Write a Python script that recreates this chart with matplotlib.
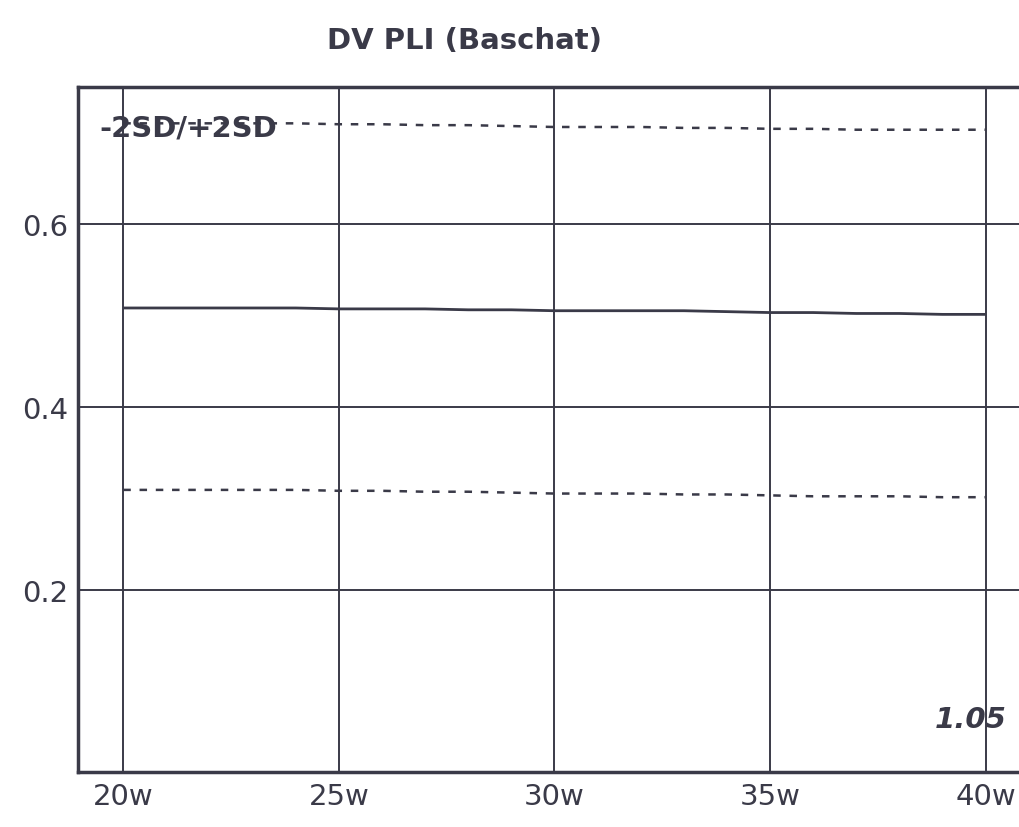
import matplotlib
matplotlib.use("Agg")
import matplotlib.pyplot as plt

# Values
weeks = [20, 21, 22, 23, 24, 25, 26, 27, 28, 29, 30, 31, 32, 33, 34, 35, 36, 37, 38, 39, 40]
mean_pli = [0.508, 0.508, 0.508, 0.508, 0.508, 0.507, 0.507, 0.507, 0.506, 0.506, 0.505,
            0.505, 0.505, 0.505, 0.504, 0.503, 0.503, 0.502, 0.502, 0.501, 0.501]
minus_2sd = [0.309, 0.309, 0.309, 0.309, 0.309, 0.308, 0.308, 0.307, 0.307, 0.306, 0.305,
             0.305, 0.305, 0.304, 0.304, 0.303, 0.302, 0.302, 0.302, 0.301, 0.301]
plus_2sd = [0.710, 0.710, 0.710, 0.710, 0.710, 0.709, 0.709, 0.708, 0.708, 0.707, 0.706,
            0.706, 0.706, 0.705, 0.705, 0.704, 0.704, 0.703, 0.703, 0.703, 0.703]
x_ticks = [20, 25, 30, 35, 40]
x_labels = ["20w", "25w", "30w", "35w", "40w"]
y_ticks = [0.2, 0.4, 0.6]
y_labels = ["0.2", "0.4", "0.6"]

ink = "#3a3a48"

fig = plt.figure(figsize=(10.2, 8.28), dpi=100)
ax = fig.add_axes([0.0765, 0.066, 0.9235, 0.828])

ax.plot(weeks, mean_pli, color=ink, lw=2.0, solid_capstyle="butt")
ax.plot(weeks, minus_2sd, color=ink, lw=1.8, dashes=(3, 3.5))
ax.plot(weeks, plus_2sd, color=ink, lw=1.8, dashes=(3, 3.5))

ax.set_xlim(18.95, 40.8)
ax.set_ylim(0, 0.75)
ax.set_xticks(x_ticks)
ax.set_xticklabels(x_labels)
ax.set_yticks(y_ticks)
ax.set_yticklabels(y_labels)
ax.tick_params(length=0, labelsize=21, colors=ink, pad=7)

ax.grid(True, color=ink, lw=1.4)
ax.set_axisbelow(True)
for side in ["left", "bottom", "top"]:
    ax.spines[side].set_color(ink)
    ax.spines[side].set_linewidth(2.5)
ax.spines["right"].set_visible(False)

ax.text(19.45, 0.705, "-2SD/+2SD", fontsize=21, fontweight="bold", color=ink,
        va="center", ha="left")
ax.text(40.5, 0.058, "1.05", fontsize=21, fontweight="bold", style="italic",
        color=ink, ha="right", va="center")

fig.text(0.455, 0.95, "DV PLI (Baschat)", fontsize=21, fontweight="bold",
         color=ink, ha="center", va="center")

fig.savefig("out.png", dpi=100)
